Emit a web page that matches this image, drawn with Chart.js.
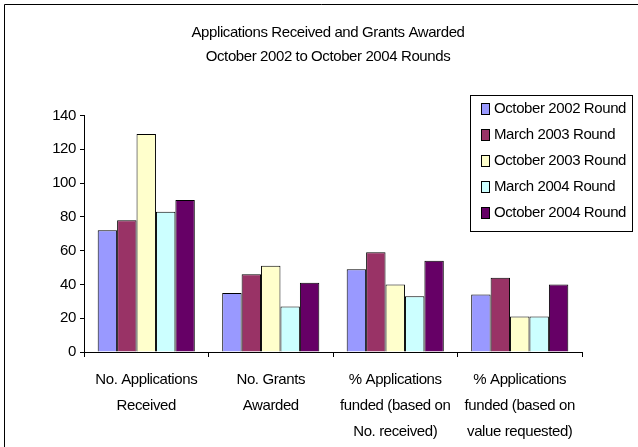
<!DOCTYPE html>
<html lang="en">
<head>
  <meta charset="UTF-8">
  <title>Applications Received and Grants Awarded</title>
  <script src="https://cdn.jsdelivr.net/npm/chart.js"></script>
  <style>
    html, body { margin: 0; padding: 0; background: #fff; }
    #wrap { width: 638px; height: 447px; position: relative; }
  </style>
</head>
<body>
  <div id="wrap"><canvas id="chart"></canvas></div>

  <script>
    const categories = [
      ['No. Applications', 'Received'],
      ['No. Grants', 'Awarded'],
      ['% Applications', 'funded (based on', 'No. received)'],
      ['% Applications', 'funded (based on', 'value requested)']
    ];
    const rounds = ['October 2002 Round', 'March 2003 Round', 'October 2003 Round', 'March 2004 Round', 'October 2004 Round'];
    const colors = ['#9999FF', '#993366', '#FFFFCC', '#CCFFFF', '#660066'];
    const oct2002 = [72, 35, 49, 34];
    const mar2003 = [78, 46, 59, 44];
    const oct2003 = [129, 51, 40, 21];
    const mar2004 = [83, 27, 33, 21];
    const oct2004 = [90, 41, 54, 40];
    const titleLines = ['Applications Received and Grants Awarded', 'October 2002 to October 2004 Rounds'];
    const yMax = 140;
    const yStep = 20;

    const FONT = '"Liberation Sans", Arial, sans-serif';
    const SPACING = '-0.4px';

    const spacing = {
      id: 'spacing',
      beforeUpdate(chart) { chart.ctx.letterSpacing = SPACING; },
      beforeLayout(chart) { chart.ctx.letterSpacing = SPACING; },
      beforeDraw(chart) { chart.ctx.letterSpacing = SPACING; }
    };

    // frame, title and boxed legend in the old spreadsheet style
    const decor = {
      id: 'decor',
      afterDraw(chart) {
        const ctx = chart.ctx;
        ctx.save();
        ctx.letterSpacing = SPACING;
        ctx.strokeStyle = '#000';
        ctx.lineWidth = 1;
        ctx.beginPath();
        ctx.moveTo(4.5, 447);
        ctx.lineTo(4.5, 4.5);
        ctx.lineTo(638, 4.5);
        ctx.stroke();

        ctx.fillStyle = '#000';
        ctx.font = '15px ' + FONT;
        ctx.textAlign = 'center';
        ctx.textBaseline = 'middle';
        titleLines.forEach((t, i) => ctx.fillText(t, 328, 33 + i * 24));

        ctx.fillStyle = '#fff';
        ctx.fillRect(470.5, 95.5, 162, 136);
        ctx.strokeRect(470.5, 95.5, 162, 136);
        ctx.textAlign = 'left';
        chart.data.datasets.forEach((ds, i) => {
          const cy = Math.round(109 + i * 26.1);
          ctx.fillStyle = ds.backgroundColor;
          ctx.fillRect(481.5, cy - 5.5, 8, 11);
          ctx.strokeRect(481.5, cy - 5.5, 8, 11);
          ctx.fillStyle = '#000';
          ctx.fillText(ds.label, 494, cy);
        });
        ctx.restore();
      }
    };

    const series = [oct2002, mar2003, oct2003, mar2004, oct2004];

    new Chart(document.getElementById('chart'), {
      type: 'bar',
      data: {
        labels: categories,
        datasets: series.map((d, i) => ({
          label: rounds[i],
          data: d,
          backgroundColor: colors[i],
          borderColor: '#000',
          borderWidth: 1,
          categoryPercentage: 0.78,
          barPercentage: 1
        }))
      },
      options: {
        responsive: true,
        maintainAspectRatio: false,
        animation: false,
        layout: { padding: { left: 0, top: 115.5, right: 56, bottom: 0 } },
        plugins: {
          legend: { display: false },
          title: { display: false },
          tooltip: { enabled: false }
        },
        scales: {
          x: {
            afterFit(s) { s.height = 95; },
            grid: { offset: true, drawOnChartArea: false, drawTicks: true, tickLength: 5, color: '#000' },
            border: { display: true, color: '#000', width: 1 },
            ticks: {
              color: '#000',
              padding: 10,
              maxRotation: 0,
              autoSkip: false,
              font: { family: FONT, size: 15, lineHeight: 1.73 }
            }
          },
          y: {
            min: 0,
            max: yMax,
            afterFit(s) { s.width = 84; },
            grid: { drawOnChartArea: false, drawTicks: true, tickLength: 4, color: '#000' },
            border: { display: true, color: '#000', width: 1 },
            ticks: {
              stepSize: yStep,
              color: '#000',
              padding: 4,
              font: { family: FONT, size: 15 }
            }
          }
        }
      },
      plugins: [spacing, decor]
    });
  </script>
</body>
</html>
